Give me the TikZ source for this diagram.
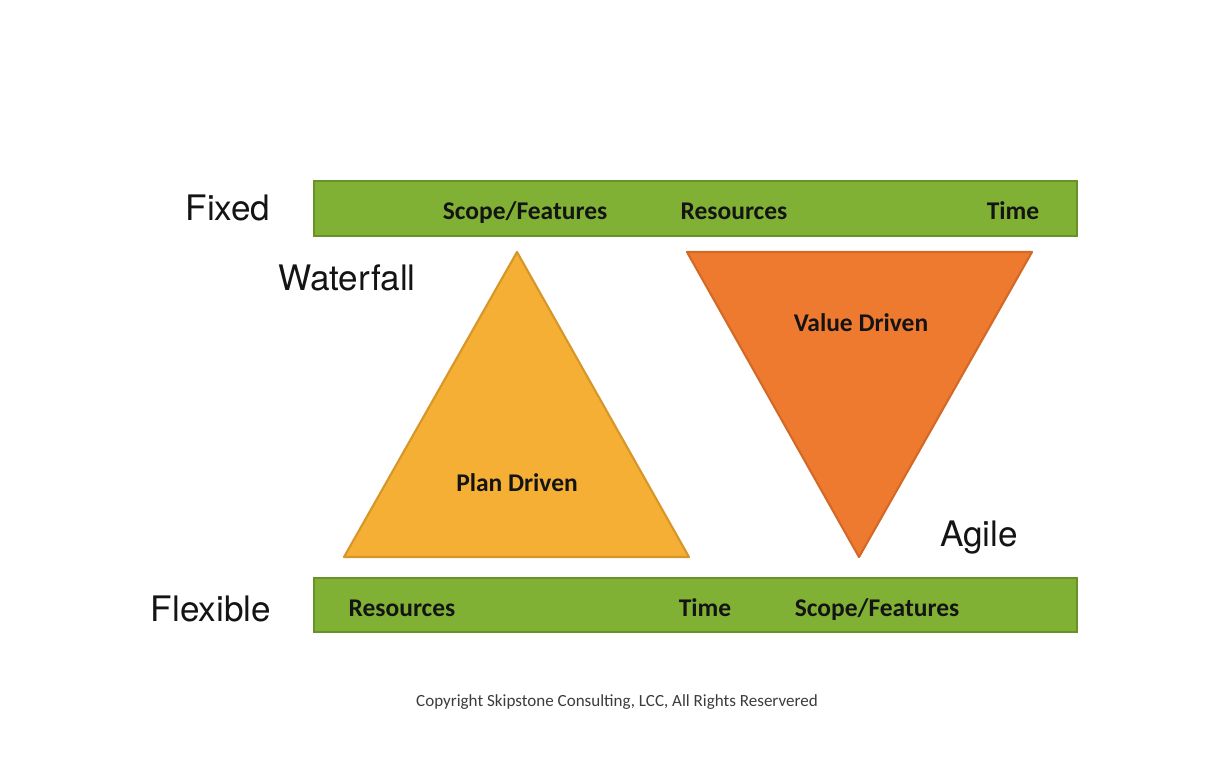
\documentclass[tikz,border=0pt]{standalone}
\usepackage{fontspec}
\setmainfont{Carlito}
\newfontfamily\heros{TeX Gyre Heros}
\begin{document}
\begin{tikzpicture}[x=0.02cm,y=-0.02cm,
  bar/.style={fill=barfill,draw=barline,line width=1.2pt},
  barlabel/.style={font=\bfseries\fontsize{14.5}{17}\selectfont,text=ink,inner sep=0pt,anchor=base},
  sidelabel/.style={font=\heros\fontsize{20}{24}\selectfont,text=ink,inner sep=0pt,anchor=base},
  tri/.style={line width=1.2pt,line join=round}]
\definecolor{barfill}{RGB}{128,177,52}
\definecolor{barline}{RGB}{104,145,40}
\definecolor{planfill}{RGB}{244,175,52}
\definecolor{planline}{RGB}{214,150,40}
\definecolor{valuefill}{RGB}{238,122,48}
\definecolor{valueline}{RGB}{212,104,38}
\definecolor{ink}{RGB}{20,20,20}
\definecolor{note}{RGB}{60,60,60}
\useasboundingbox[fill=white] (0,0) rectangle (1230,768);

% fixed / flexible bars
\draw[bar] (314,181) rectangle (1077,236);
\draw[bar] (314,578) rectangle (1077,632);

% plan-driven and value-driven triangles
\draw[tri,fill=planfill,draw=planline] (517,252) -- (689,557) -- (344,557) -- cycle;
\draw[tri,fill=valuefill,draw=valueline] (687,252) -- (1032,252) -- (859,557) -- cycle;

% side labels (placed on their baselines)
\node[sidelabel] (fixed) at (228,220) {Fixed};
\node[sidelabel] (waterfall) at (347,290) {Waterfall};
\node[sidelabel] (agile) at (979,546) {Agile};
\node[sidelabel] (flexible) at (211,621) {Flexible};

% bar labels
\node[barlabel] (tscope) at (525,219) {Scope/Features};
\node[barlabel] (tres) at (734,219) {Resources};
\node[barlabel] (ttime) at (1013,219) {Time};
\node[barlabel] (bres) at (402,616) {Resources};
\node[barlabel] (btime) at (705,616) {Time};
\node[barlabel] (bscope) at (877,616) {Scope/Features};

% triangle labels
\node[barlabel] (plan) at (517,491) {Plan Driven};
\node[barlabel] (value) at (861,331) {Value Driven};

% footer
\node[font=\fontsize{9.7}{12}\selectfont,text=note,inner sep=0pt,anchor=base] (copy) at (617,706) {Copyright Skipstone Consulting, LCC, All Rights Reservered};
\end{tikzpicture}
\end{document}
